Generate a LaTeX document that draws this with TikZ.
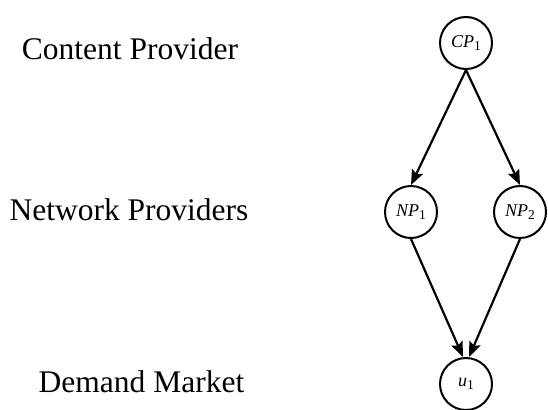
\documentclass[tikz,border=0pt]{standalone}
\usepackage{fontspec}
\setmainfont{Liberation Serif}
\usetikzlibrary{arrows.meta}
\newcommand{\nsub}[1]{\raisebox{-0.2em}{\fontsize{13.5}{14}\selectfont\upshape #1}}
\begin{document}
\begin{tikzpicture}[x=1pt,y=-1pt,
  agent/.style={circle,draw,line width=2pt,minimum size=52pt,inner sep=0pt,font=\fontsize{18}{19}\selectfont\itshape},
  level/.style={anchor=base,inner sep=0pt,font=\fontsize{31.5}{36}\selectfont},
  flow/.style={line width=2.2pt,-{Stealth[length=15pt,width=12pt,inset=2.5pt]}}]
\useasboundingbox (0,0) rectangle (548,409);
\node[level] (lc) at (130,60) {Content Provider};
\node[level] (ln) at (129,220) {Network Providers};
\node[level] (ld) at (141.5,392) {Demand Market};
\node[agent] (cp) at (466,43) {CP\nsub{1}};
\node[agent] (np1) at (411,212) {NP\nsub{1}};
\node[agent] (np2) at (520,212) {NP\nsub{2}};
\node[agent] (u) at (466,384) {u\nsub{1}};
\draw[flow] (cp.south) -- (np1.north);
\draw[flow] (cp.south) -- (np2.north);
\draw[flow] (np1.south) -- ([xshift=-3pt]u.north);
\draw[flow] (np2.south) -- ([xshift=3pt]u.north);
\end{tikzpicture}
\end{document}
